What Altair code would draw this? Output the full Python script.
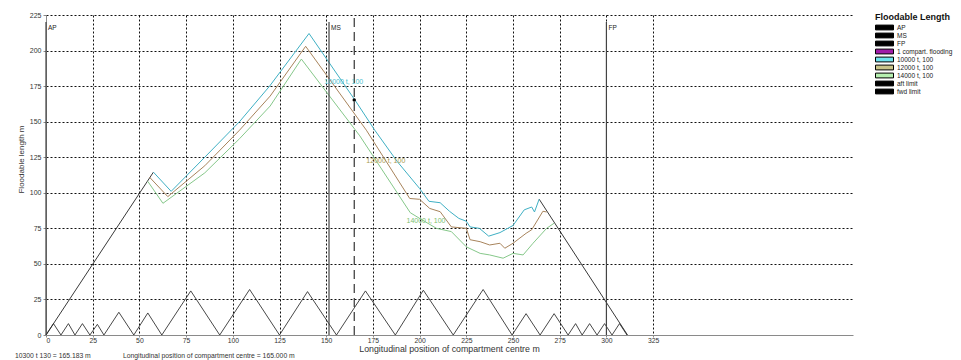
import altair as alt
import pandas as pd

FONT = "Liberation Sans"

# Floodable length curves: longitudinal position (m) and floodable length (m)
c10_x = [57.5, 67, 85, 103.6, 119.7, 140.8, 166, 176, 188, 200, 205, 211, 216, 221, 225, 227, 232, 237, 243, 250, 256, 260, 261.5, 264]
c10_y = [114.5, 101, 125, 150, 175, 212, 164, 144, 122, 103, 94, 93, 87, 82, 80, 76, 75, 69.5, 72, 77, 88, 90, 86.5, 95.5]

c12_x = [55.4, 65.2, 85, 103.6, 120, 139, 171.5, 194.7, 200, 205.4, 211, 217, 225, 227, 232.4, 237.5, 243, 245.6, 250, 257, 260, 266, 268]
c12_y = [111, 97.3, 119, 144, 168, 203, 144, 96, 95.4, 89, 86.7, 76, 75, 67, 65.6, 63.3, 64.5, 61, 64.5, 71.5, 74, 87, 86.5]

c14_x = [54.5, 62.6, 85, 103.6, 120, 136.7, 168, 195, 200, 209, 217, 225, 232.4, 237.5, 244.7, 250, 255.4, 260.7, 268, 272]
c14_y = [108, 92.6, 114, 138, 161, 194, 140, 86, 82, 75, 72.7, 62, 57.4, 56.3, 54, 57.4, 56.3, 64.5, 75, 78.6]

# Aft and forward limit lines
aft_x = [0, 57.5]
aft_y = [0, 114.5]
fwd_x = [264, 311.3]
fwd_y = [95.5, 0]

# Compartment triangles along the bottom
tri_x = [0, 4, 8, 12, 15.5, 19.5, 23.5, 27.5, 31, 39, 47, 54.5, 62, 77.5, 93, 109, 125, 140, 155.5,
         171, 187, 202, 218, 234, 249.5, 257, 264.5, 272, 279.5, 283.5, 287, 291, 295, 299, 303, 307, 311]
tri_y = [0, 8, 0, 8, 0, 8, 0, 7.5, 0, 16, 0, 15.5, 0, 31, 0, 32, 0, 30.5, 0,
         31, 0, 31.5, 0, 32, 0, 15, 0, 15, 0, 8, 0, 8, 0, 8, 0, 8, 0]

# Reference stations
station_names = ["AP", "MS", "FP"]
station_x = [0, 151.5, 300]
station_top = 220

# Compartment under study
comp_centre = 165.0
comp_length = 165.183

# Curve labels
label_text = ["10000 t, 100", "12000 t, 100", "14000 t, 100"]
label_x = [149, 171.5, 193]
label_y = [178, 122, 80]

# Legend entries
legend_names = ["AP", "MS", "FP", "1 compart. flooding", "10000 t, 100",
                "12000 t, 100", "14000 t, 100", "aft limit", "fwd limit"]
legend_fill = ["#000000", "#000000", "#000000", "#a01ca8", "#6fe3ee",
               "#c9c48a", "#b6f0b0", "#000000", "#000000"]

curve_names = ["10000 t, 100", "12000 t, 100", "14000 t, 100"]
curve_colors = ["#3fb0c4", "#a8845c", "#86c88a"]
label_colors = ["#4cc0d0", "#a89a50", "#7cc070"]

x_ticks = list(range(0, 326, 25))
y_ticks = list(range(0, 226, 25))

curves = pd.concat([
    pd.DataFrame({"x": c10_x, "y": c10_y, "series": curve_names[0]}),
    pd.DataFrame({"x": c12_x, "y": c12_y, "series": curve_names[1]}),
    pd.DataFrame({"x": c14_x, "y": c14_y, "series": curve_names[2]}),
], ignore_index=True)
curves["order"] = curves.groupby("series").cumcount()

limits = pd.concat([
    pd.DataFrame({"x": aft_x, "y": aft_y, "series": "aft limit"}),
    pd.DataFrame({"x": fwd_x, "y": fwd_y, "series": "fwd limit"}),
], ignore_index=True)
limits["order"] = limits.groupby("series").cumcount()

triangles = pd.DataFrame({"x": tri_x, "y": tri_y, "order": range(len(tri_x))})

stations = pd.DataFrame({"x": station_x, "y": 0, "y1": station_top, "name": station_names})

xs = alt.Scale(domain=[0, 432], nice=False, zero=False)
ys = alt.Scale(domain=[0, 225], nice=False)

x_axis = alt.Axis(values=x_ticks, grid=True, gridDash=[2, 2], gridColor="#111", gridOpacity=1,
                  domainColor="#8a8a8a", tickColor="#8a8a8a", tickSize=2,
                  labelFont=FONT, labelFontSize=6.8, labelColor="#333", labelPadding=0,
                  title="Longitudinal position of compartment centre  m",
                  titleFont=FONT, titleFontSize=8.8, titleFontWeight="normal", titleColor="#333",
                  titleX=403, titleY=16.5, titleBaseline="alphabetic", titleAnchor="middle")
y_axis = alt.Axis(values=y_ticks, grid=True, gridDash=[2, 2], gridColor="#111", gridOpacity=1,
                  domainColor="#8a8a8a", tickColor="#8a8a8a", tickSize=3,
                  labelFont=FONT, labelFontSize=7, labelColor="#333", labelPadding=2,
                  title="Floodable length  m",
                  titleFont=FONT, titleFontSize=8, titleFontWeight="normal", titleColor="#333",
                  titleX=-21, titleY=144, titleAnchor="middle")


def X(field="x"):
    return alt.X(f"{field}:Q", scale=xs, axis=x_axis)


def Y(field="y"):
    return alt.Y(f"{field}:Q", scale=ys, axis=y_axis)


tri_layer = alt.Chart(triangles).mark_line(color="#333", strokeWidth=0.9).encode(
    x=X(), y=Y(), order="order:Q")

limit_layer = alt.Chart(limits).mark_line(color="#222", strokeWidth=0.9).encode(
    x=X(), y=Y(), detail="series:N", order="order:Q")

curve_layer = alt.Chart(curves).mark_line(strokeWidth=1).encode(
    x=X(), y=Y(), order="order:Q",
    stroke=alt.Stroke("series:N", scale=alt.Scale(domain=curve_names, range=curve_colors), legend=None))

station_layer = alt.Chart(stations).mark_rule(color="#444", strokeWidth=1.2).encode(
    x=X(), y=Y(), y2="y1:Q")

station_text = alt.Chart(stations).mark_text(font=FONT, fontSize=6.5, align="left", dx=2, dy=6,
                                             color="#222").encode(
    x=X(), y=Y("y1"), text="name:N")

comp_rule = alt.Chart(pd.DataFrame({"x": [comp_centre], "y": [0], "y1": [225]})).mark_rule(
    color="#222", strokeWidth=1.1, strokeDash=[9, 5]).encode(x=X(), y=Y(), y2="y1:Q")

comp_dot = alt.Chart(pd.DataFrame({"x": [comp_centre], "y": [comp_length]})).mark_point(
    filled=True, color="#000", size=12, opacity=1).encode(x=X(), y=Y())

curve_labels = alt.Chart(pd.DataFrame({"x": label_x, "y": label_y, "t": label_text})).mark_text(
    font=FONT, fontSize=7, align="left", baseline="middle").encode(
    x=X(), y=Y(), text="t:N",
    color=alt.Color("t:N", scale=alt.Scale(domain=label_text, range=label_colors), legend=None))

legend_layer = alt.Chart(pd.DataFrame({"name": legend_names})).mark_point(
    filled=True, size=10).encode(
    x=alt.value(-600), y=alt.value(-600),
    fill=alt.Fill("name:N", scale=alt.Scale(domain=legend_names, range=legend_fill),
                  legend=alt.Legend(title="Floodable Length", orient="none", legendX=829, legendY=-2,
                                    titleFont=FONT, titleFontSize=9, titleFontWeight="bold",
                                    titleColor="#111", titlePadding=2,
                                    symbolType="M-1,-0.8H5V0.8H-1Z", symbolSize=36,
                                    symbolStrokeColor="#000", symbolStrokeWidth=1, symbolOpacity=1,
                                    labelFont=FONT, labelFontSize=6.5, labelColor="#222",
                                    labelOffset=15, rowPadding=-1.8, labelLimit=120)))

info = pd.DataFrame({
    "t": [f"10300 t  130  =  {comp_length:.3f} m",
          f"Longitudinal position of compartment centre  =  {comp_centre:.3f} m"],
    "px": [-31, 77],
})
info_layer = alt.Chart(info).mark_text(font=FONT, fontSize=6.8, align="left", baseline="middle",
                                       color="#333").encode(
    x=alt.X("px:Q", scale=None), y=alt.value(340.5), text="t:N")

chart = alt.layer(
    tri_layer, limit_layer, curve_layer, station_layer, station_text,
    comp_rule, comp_dot, curve_labels, legend_layer, info_layer
).resolve_scale(color="independent").properties(
    width=807, height=320,
    autosize=alt.AutoSizeParams(type="none"),
    padding={"left": 46, "top": 15, "right": 108, "bottom": 25},
    background="white",
).configure_view(stroke=None)

chart.save("out.html", embed_options={"renderer": "svg", "actions": False})
